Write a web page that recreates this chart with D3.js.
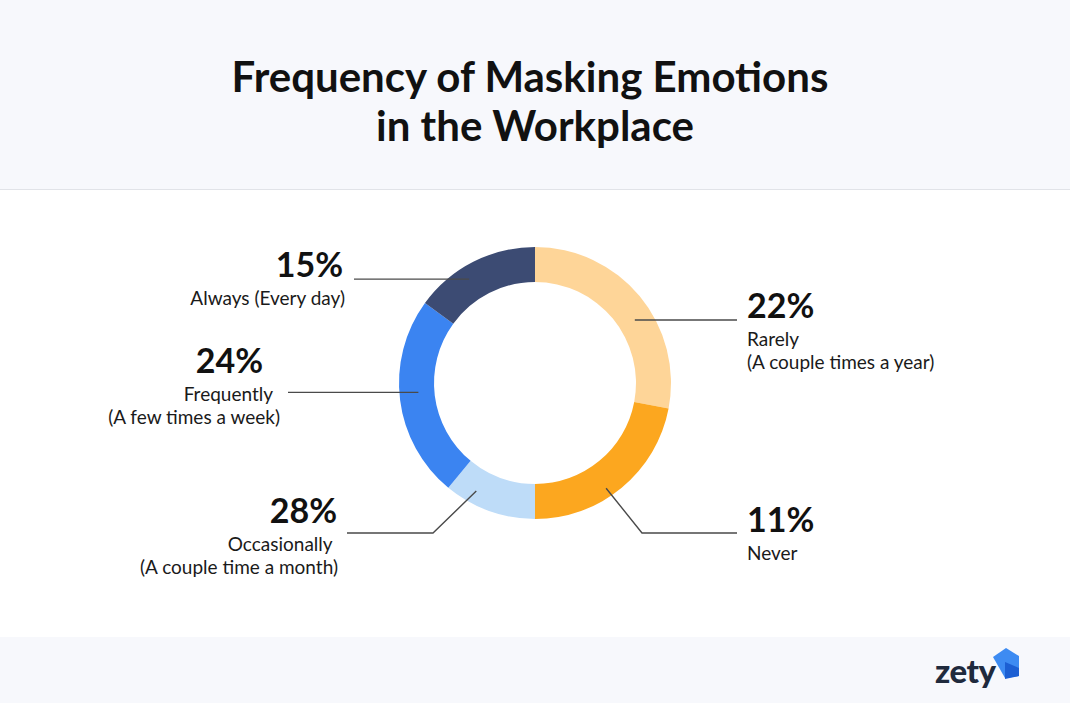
<!DOCTYPE html>
<html>
<head>
<meta charset="utf-8">
<script src="https://cdn.jsdelivr.net/npm/d3@7"></script>
<style>
  html, body { margin: 0; padding: 0; background: #ffffff; }
  svg { display: block; font-family: Lato, "Open Sans", sans-serif; }
</style>
</head>
<body>
<svg id="chart" width="1070" height="703"></svg>
<script>
// ---- data ----
const titleLines = ["Frequency of Masking Emotions", "in the Workplace"];
const categories = ["Rarely", "Never", "Occasionally", "Frequently", "Always"];
const subLabels = [
  ["Rarely", "(A couple times a year)"],
  ["Never"],
  ["Occasionally ", "(A couple time a month)"],
  ["Frequently", "(A few times a week)"],
  ["Always (Every day)"]
];
// values printed on the labels
const labelValues = [22, 11, 28, 24, 15];
// arc sizes as drawn in the ring (clockwise from 12 o'clock)
const sliceValues = [28, 22, 11, 24, 15];
const colors = ["#FED598", "#FCA71F", "#BEDCF8", "#3B84F1", "#3C4B73"];

// ---- layout ----
const W = 1070, H = 703;
const cx = 535, cy = 383, R = 136, r = 101;
const svg = d3.select("#chart");

// header band
svg.append("rect").attr("x", 0).attr("y", 0).attr("width", W).attr("height", 189).attr("fill", "#F7F8FC");
svg.append("line").attr("x1", 0).attr("x2", W).attr("y1", 189.5).attr("y2", 189.5).attr("stroke", "#E1E3E8").attr("stroke-width", 1);
// footer band
svg.append("rect").attr("x", 0).attr("y", 637).attr("width", W).attr("height", H - 637).attr("fill", "#F7F8FC");

// title
const titleX = [530, 535];
svg.append("g").selectAll("text").data(titleLines).join("text")
  .attr("x", (d, i) => titleX[i]).attr("y", (d, i) => 92 + i * 49)
  .attr("text-anchor", "middle")
  .attr("font-size", 42).attr("font-weight", 700).attr("fill", "#111111")
  .text(d => d);

// donut
const pie = d3.pie().sort(null).value(d => d).startAngle(0).endAngle(2 * Math.PI);
const arcs = pie(sliceValues);
const arcGen = d3.arc().innerRadius(r).outerRadius(R);
const g = svg.append("g").attr("transform", `translate(${cx},${cy})`);
g.selectAll("path").data(arcs).join("path")
  .attr("d", arcGen)
  .attr("fill", (d, i) => colors[i]);

// label layout: fraction along slice for leader start, radius, elbow, line end, text side
const layout = [
  { frac: 0.573, rad: 118, elbow: null, endX: 737, side: "right", tx: 747, pctY: 318, subY: [346, 369], subX: [747, 747] },
  { frac: 0.57,  rad: 127, elbow: [642, 533], endX: 737, side: "right", tx: 747, pctY: 532, subY: [560], subX: [747] },
  { frac: 0.72,  rad: 123, elbow: [433, 533], endX: 347, side: "left", tx: 337, pctY: 523, subY: [551, 574], subX: [337, 338] },
  { frac: 0.53,  rad: 117, elbow: null, endX: 288, side: "left", tx: 263, pctY: 373, subY: [401, 424], subX: [273, 280] },
  { frac: 0.40,  rad: 123, elbow: null, endX: 354, side: "left", tx: 343, pctY: 277, subY: [305], subX: [345] }
];

const labels = svg.append("g");
arcs.forEach((a, i) => {
  const L = layout[i];
  const ang = a.startAngle + (a.endAngle - a.startAngle) * L.frac;
  const sx = cx + L.rad * Math.sin(ang);
  const sy = cy - L.rad * Math.cos(ang);
  const pts = [[sx, sy]];
  if (L.elbow) { pts.push(L.elbow); pts.push([L.endX, L.elbow[1]]); }
  else { pts.push([L.endX, sy]); }
  labels.append("path")
    .attr("d", d3.line()(pts))
    .attr("fill", "none").attr("stroke", "#4a4a4a").attr("stroke-width", 1.4);
  const anchor = L.side === "right" ? "start" : "end";
  labels.append("text")
    .attr("x", L.tx).attr("y", L.pctY)
    .attr("text-anchor", anchor)
    .attr("font-size", 34).attr("font-weight", 700).attr("fill", "#111111")
    .text(labelValues[i] + "%");
  subLabels[i].forEach((s, j) => {
    labels.append("text")
      .attr("x", L.subX[j]).attr("y", L.subY[j])
      .attr("text-anchor", anchor)
      .attr("font-size", 19).attr("font-weight", 400).attr("fill", "#1a1a1a")
      .style("white-space", "pre")
      .text(s);
  });
});

// logo
const logo = svg.append("g");
logo.append("text").attr("x", 935).attr("y", 683)
  .attr("font-size", 33).attr("font-weight", 900).attr("fill", "#1F2A3D")
  .attr("letter-spacing", -0.5)
  .text("zety");
logo.append("path").attr("d", "M993,657 L1006,648 L1019,656 L1019,676 L1005,678 Z").attr("fill", "#3D8BF2");
logo.append("path").attr("d", "M1005,662 L1019,668 L1019,676 L1005,679 Z").attr("fill", "#1C5FD3");
</script>
</body>
</html>
